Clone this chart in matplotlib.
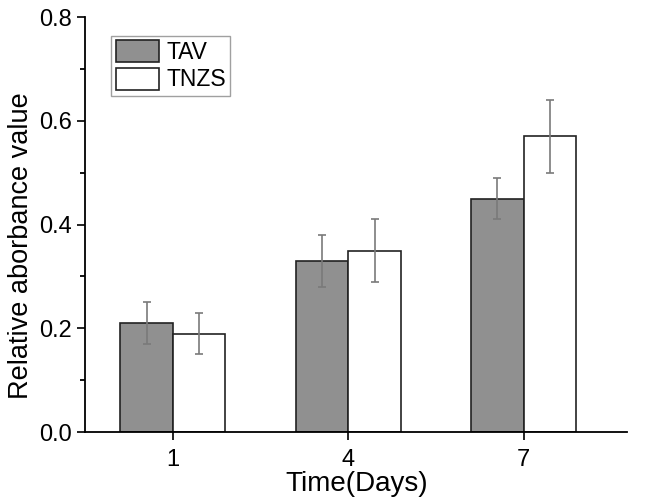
import numpy as np
import matplotlib.pyplot as plt

days = ['1', '4', '7']
tav = [0.21, 0.33, 0.45]
tav_err = [0.04, 0.05, 0.04]
tnzs = [0.19, 0.35, 0.57]
tnzs_err = [0.04, 0.06, 0.07]

plt.rcParams['font.family'] = ['Liberation Sans', 'DejaVu Sans']

fig = plt.figure(figsize=(6.5, 5.03), dpi=100)
ax = fig.add_axes([0.131, 0.141, 0.834, 0.825])

x = np.arange(len(days))
w = 0.30
err_kw = dict(ecolor='#7a7a7a', elinewidth=1.2, capsize=3, capthick=1.2)
ax.bar(x - w / 2, tav, w, yerr=tav_err, color='#909090', edgecolor='#222222',
       linewidth=1.2, label='TAV', error_kw=err_kw)
ax.bar(x + w / 2, tnzs, w, yerr=tnzs_err, color='white', edgecolor='#222222',
       linewidth=1.2, label='TNZS', error_kw=err_kw)

ax.set_xlim(-0.5, 2.59)
ax.set_ylim(0, 0.8)
ax.set_xticks(x)
ax.set_xticklabels(days)
ax.set_yticks([0.0, 0.2, 0.4, 0.6, 0.8])
ax.set_yticks([0.1, 0.3, 0.5, 0.7], minor=True)
ax.yaxis.set_major_formatter(plt.FormatStrFormatter('%.1f'))
ax.tick_params(axis='both', which='major', direction='out', length=6, width=1.3,
               labelsize=17, color='#111111')
ax.tick_params(axis='x', which='major', pad=6)
ax.tick_params(axis='y', which='minor', direction='out', length=3.5, width=1.3)
for s in ['top', 'right']:
    ax.spines[s].set_visible(False)
for s in ['left', 'bottom']:
    ax.spines[s].set_linewidth(1.3)

ax.set_xlabel('Time(Days)', fontsize=20, labelpad=0)
ax.set_ylabel('Relative aborbance value', fontsize=19.5)
ax.yaxis.set_label_coords(-0.094, 0.45)

leg = ax.legend(loc='upper left', bbox_to_anchor=(0.048, 0.955), fontsize=16.5,
                frameon=True, fancybox=False, edgecolor='#888888',
                handlelength=1.9, handleheight=1.1, borderpad=0.2,
                labelspacing=0.15, handletextpad=0.3, borderaxespad=0)
leg.get_frame().set_linewidth(1.0)

fig.savefig('out.png', dpi=100)
